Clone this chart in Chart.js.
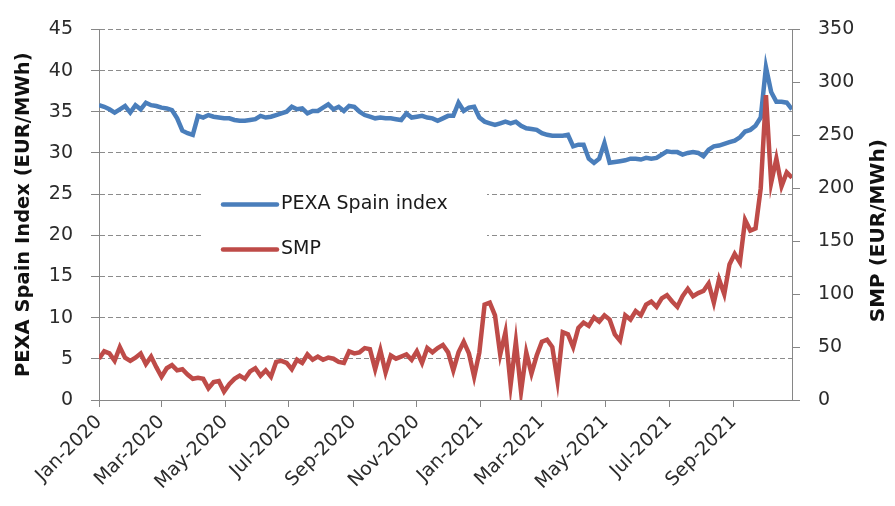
<!DOCTYPE html>
<html>
<head>
<meta charset="utf-8">
<script src="https://cdn.jsdelivr.net/npm/chart.js"></script>
<style>
  html, body { margin: 0; padding: 0; background: #fff; }
</style>
</head>
<body>
<canvas id="chart" width="895" height="506"></canvas>
<script>
// one reading every 5 days, starting 1 Jan 2020
const dayStep = 5

const pexaIndex = [
  35.8, 35.6, 35.3, 34.9, 35.3, 35.7, 34.9, 35.8, 35.3, 36.1,
  35.8, 35.7, 35.5, 35.4, 35.2, 34.2, 32.7, 32.4, 32.2, 34.5,
  34.3, 34.6, 34.4, 34.3, 34.2, 34.2, 34.0, 33.9, 33.9, 34.0,
  34.1, 34.5, 34.3, 34.4, 34.6, 34.8, 35.0, 35.6, 35.3, 35.4,
  34.8, 35.1, 35.1, 35.5, 35.9, 35.3, 35.6, 35.1, 35.7, 35.6,
  35.0, 34.6, 34.4, 34.2, 34.3, 34.2, 34.2, 34.1, 34.0, 34.8,
  34.3, 34.4, 34.5, 34.3, 34.2, 33.9, 34.2, 34.5, 34.5, 36.1,
  35.1, 35.5, 35.6, 34.3, 33.8, 33.6, 33.4, 33.6, 33.8, 33.6,
  33.8, 33.3, 33.0, 32.9, 32.8, 32.4, 32.2, 32.1, 32.1, 32.1,
  32.2, 30.8, 31.0, 31.0, 29.3, 28.8, 29.3, 31.2, 28.8, 28.9,
  29.0, 29.1, 29.3, 29.3, 29.2, 29.4, 29.3, 29.4, 29.8, 30.2,
  30.1, 30.1, 29.8, 30.0, 30.1, 30.0, 29.6, 30.4, 30.8, 30.9,
  31.1, 31.3, 31.5, 31.9, 32.6, 32.8, 33.3, 34.3, 40.4, 37.4,
  36.2, 36.2, 36.1, 35.3,
]

const smpPrice = [
  39, 46, 44, 37, 50, 40, 37, 40, 44, 34,
  41, 31, 22, 30, 33, 28, 29, 24, 20, 21,
  20, 11, 17, 18, 8, 15, 20, 23, 20, 27,
  30, 23, 28, 22, 36, 37, 35, 29, 38, 35,
  43, 38, 41, 38, 40, 39, 36, 35, 46, 44,
  45, 49, 48, 29, 47, 26, 42, 39, 41, 43,
  38, 46, 35, 49, 45, 49, 52, 45, 28, 45,
  55, 44, 22, 45, 90, 92, 80, 43, 64, 14,
  55, 8, 45, 25, 42, 55, 57, 50, 18, 64,
  62, 50, 68, 73, 70, 78, 74, 80, 76, 62,
  56, 80, 76, 84, 80, 90, 93, 88, 96, 99,
  93, 88, 98, 105, 98, 101, 103, 110, 92, 114,
  100, 128, 138, 130, 170, 160, 162, 200, 288, 205,
  228, 202, 215, 210,
]

// days since 1 Jan 2020 for the month ticks
const tickDays = [0, 60, 121, 182, 244, 305, 366, 425, 486, 547, 609]
const tickLabels = ['Jan-2020', 'Mar-2020', 'May-2020', 'Jul-2020', 'Sep-2020', 'Nov-2020',
  'Jan-2021', 'Mar-2021', 'May-2021', 'Jul-2021', 'Sep-2021']

const seriesNames = ['PEXA Spain index', 'SMP']
const blue = '#4a7ebb'
const red = '#be4b48'
const axisGrey = '#868686'

const toPoints = (values) => values.map((v, i) => ({ x: i * dayStep, y: v }))

// legend drawn inside the plot on a white box
const innerLegend = {
  id: 'innerLegend',
  afterDraw(chart) {
    const ctx = chart.ctx
    const a = chart.chartArea
    const x0 = a.left + 104
    const y0 = a.top + 150
    ctx.save()
    ctx.fillStyle = '#fff'
    ctx.fillRect(x0, y0, 284, 94)
    const colors = [blue, red]
    seriesNames.forEach((name, i) => {
      const y = y0 + 25 + i * 45
      ctx.strokeStyle = colors[i]
      ctx.lineWidth = 4.5
      ctx.lineCap = 'round'
      ctx.beginPath()
      ctx.moveTo(x0 + 20, y)
      ctx.lineTo(x0 + 74, y)
      ctx.stroke()
      ctx.fillStyle = '#1a1a1a'
      ctx.font = '19px "DejaVu Sans"'
      ctx.textBaseline = 'middle'
      ctx.textAlign = 'left'
      ctx.fillText(name, x0 + 78, y)
    })
    ctx.restore()
  },
}

// right title reads bottom to top, like the left one
const rightTitle = {
  id: 'rightTitle',
  afterDraw(chart) {
    const ctx = chart.ctx
    const a = chart.chartArea
    const s = chart.scales.y2
    ctx.save()
    ctx.translate(s.right - 16, (a.top + a.bottom) / 2 + 16)
    ctx.rotate(-Math.PI / 2)
    ctx.font = 'bold 20px "DejaVu Sans"'
    ctx.fillStyle = '#111'
    ctx.textAlign = 'center'
    ctx.textBaseline = 'middle'
    ctx.fillText('SMP (EUR/MWh)', 0, 0)
    ctx.restore()
  },
}

const onPageLoad = () => {
  Chart.defaults.font.family = '"DejaVu Sans"'
  Chart.defaults.font.size = 19
  Chart.defaults.color = '#2b2b2b'

  new Chart(document.getElementById('chart'), {
    type: 'line',
    data: {
      datasets: [
        {
          label: seriesNames[0],
          data: toPoints(pexaIndex),
          borderColor: blue,
          borderWidth: 4.5,
          pointRadius: 0,
          tension: 0,
          yAxisID: 'y',
          order: 1,
        },
        {
          label: seriesNames[1],
          data: toPoints(smpPrice),
          borderColor: red,
          borderWidth: 4.5,
          pointRadius: 0,
          tension: 0,
          yAxisID: 'y2',
          order: 0,
        },
      ],
    },
    options: {
      responsive: false,
      animation: false,
      layout: { padding: { top: 18, left: 0, right: 0, bottom: 0 } },
      plugins: { legend: { display: false }, tooltip: { enabled: false } },
      scales: {
        x: {
          type: 'linear',
          min: 0,
          max: 665,
          afterBuildTicks: (scale) => {
            scale.ticks = tickDays.map((d) => ({ value: d }))
          },
          afterFit: (scale) => { scale.height = 106 },
          ticks: {
            autoSkip: false,
            maxRotation: 45,
            minRotation: 45,
            padding: 4,
            callback: (v) => tickLabels[tickDays.indexOf(v)],
          },
          grid: { drawOnChartArea: false, drawTicks: true, tickLength: 7, color: axisGrey },
          border: { color: axisGrey, width: 1 },
        },
        y: {
          position: 'left',
          min: 0,
          max: 45,
          afterFit: (scale) => { scale.width = 99 },
          ticks: { stepSize: 5, padding: 18 },
          grid: { color: '#8c8c8c', tickLength: 8, tickColor: axisGrey },
          border: { color: axisGrey, dash: [5, 3] },
          title: {
            display: true,
            text: 'PEXA Spain Index (EUR/MWh)',
            color: '#111',
            font: { weight: 'bold', size: 19.5 },
            padding: { top: 12, bottom: 0 },
          },
        },
        y2: {
          position: 'right',
          min: 0,
          max: 350,
          afterFit: (scale) => { scale.width = 103 },
          ticks: { stepSize: 50, padding: 18 },
          grid: { drawOnChartArea: false, tickLength: 8, color: axisGrey },
          border: { color: axisGrey },
        },
      },
    },
    plugins: [innerLegend, rightTitle],
  })
}

document.addEventListener('DOMContentLoaded', onPageLoad)
</script>
</body>
</html>
